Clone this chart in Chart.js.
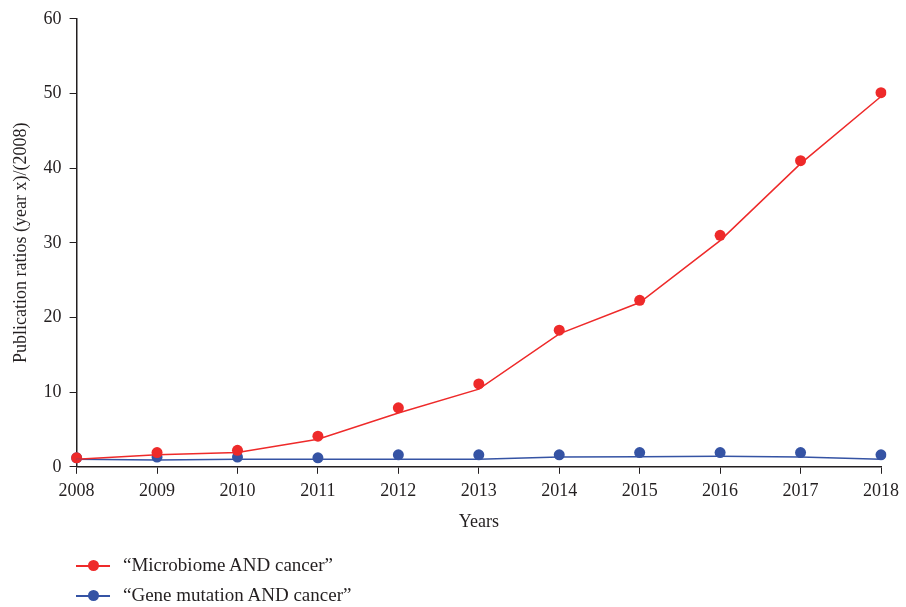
<!DOCTYPE html>
<html>
<head>
<meta charset="utf-8">
<script src="https://cdn.jsdelivr.net/npm/chart.js@4/dist/chart.umd.min.js"></script>
<style>
  html, body { margin: 0; padding: 0; background: #fff; }
  #wrap { position: relative; width: 906px; height: 607px; }
  #legend { position: absolute; left: 76px; top: 550px; font-family: "Liberation Serif", serif; font-size: 19px; color: #231f20; }
  .item { position: relative; height: 30px; line-height: 30px; padding-left: 47px; }
  .item .ln { position: absolute; left: 0; top: 15px; width: 34px; height: 1.5px; }
  .item .dt { position: absolute; left: 12px; top: 10px; width: 11px; height: 11px; border-radius: 50%; }
</style>
</head>
<body>
<div id="wrap">
  <canvas id="chart" width="906" height="607"></canvas>
  <div id="legend"></div>
</div>
<script>
const years = ['2008', '2009', '2010', '2011', '2012', '2013', '2014', '2015', '2016', '2017', '2018'];
const microbiomePoints = [1.2, 1.9, 2.2, 4.1, 7.9, 11.1, 18.3, 22.3, 31.0, 41.0, 50.1];
const microbiomeLine = [1.0, 1.6, 1.9, 3.7, 7.2, 10.4, 17.8, 22.0, 30.3, 40.6, 49.6];
const mutationPoints = [1.2, 1.3, 1.3, 1.2, 1.6, 1.6, 1.6, 1.9, 1.9, 1.9, 1.6];
const mutationLine = [1.0, 0.9, 1.0, 1.0, 1.0, 1.0, 1.3, 1.35, 1.4, 1.3, 1.0];
const seriesNames = ['\u201cMicrobiome AND cancer\u201d', '\u201cGene mutation AND cancer\u201d'];
const red = '#ee2a2a';
const blue = '#3553a4';

const serif = '"Liberation Serif", serif';

const lineSet = (data, color) => ({
  data: data, borderColor: color, borderWidth: 1.5, pointRadius: 0, tension: 0, fill: false
});
const dotSet = (data, color) => ({
  data: data, showLine: false, pointRadius: 5.5, pointBackgroundColor: color, pointBorderWidth: 0
});

new Chart(document.getElementById('chart').getContext('2d'), {
  type: 'line',
  data: {
    labels: years,
    datasets: [
      lineSet(microbiomeLine, red),
      lineSet(mutationLine, blue),
      dotSet(microbiomePoints, red),
      dotSet(mutationPoints, blue)
    ]
  },
  options: {
    responsive: false,
    animation: false,
    layout: { padding: { top: 10, right: 14, left: 6, bottom: 70 } },
    plugins: { legend: { display: false }, tooltip: { enabled: false } },
    scales: {
      x: {
        offset: false,
        grid: { drawOnChartArea: false, color: '#231f20', tickLength: 7 },
        border: { color: '#231f20', width: 1.5 },
        ticks: { color: '#231f20', font: { family: serif, size: 18 }, padding: 7, maxRotation: 0 },
        title: { display: true, text: 'Years', color: '#231f20', font: { family: serif, size: 18 }, padding: { top: 2 } }
      },
      y: {
        min: 0, max: 60,
        grid: { drawOnChartArea: false, color: '#231f20', tickLength: 7 },
        border: { color: '#231f20', width: 1.5 },
        ticks: { stepSize: 10, color: '#231f20', font: { family: serif, size: 18 }, padding: 8 },
        title: { display: true, text: 'Publication ratios (year x)/(2008)', color: '#231f20', font: { family: serif, size: 18 }, padding: { bottom: 4 } }
      }
    }
  }
});

// legend: line with a dot in the middle
const legend = document.getElementById('legend');
[[seriesNames[0], red], [seriesNames[1], blue]].forEach(([name, color]) => {
  const item = document.createElement('div');
  item.className = 'item';
  item.innerHTML = `<span class="ln" style="background:${color}"></span><span class="dt" style="background:${color}"></span>${name}`;
  legend.appendChild(item);
});
</script>
</body>
</html>
